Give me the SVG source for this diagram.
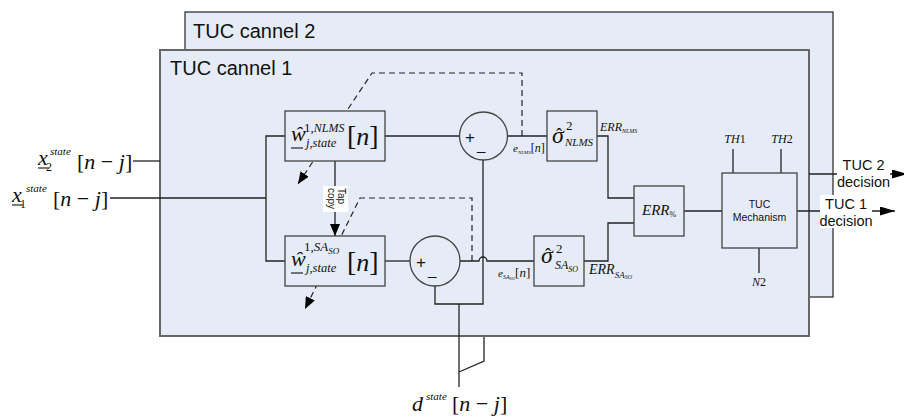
<svg xmlns="http://www.w3.org/2000/svg" width="904" height="417" viewBox="0 0 904 417">
<style>
.cv{fill:#e6ecf7;stroke:#333;stroke-width:1.3}
.cv1{fill:#e6ecf7;stroke:#666;stroke-width:2}
.blk{fill:#e6ecf7;stroke:#444;stroke-width:1.3}
.ln{fill:none;stroke:#222;stroke-width:1.3}
.dash{fill:none;stroke:#222;stroke-width:1.2;stroke-dasharray:6,4}
.m{font-family:"Liberation Serif","Times New Roman",serif;fill:#111}
.i{font-style:italic}
.s{font-family:"Liberation Sans",Arial,sans-serif;fill:#111}
.ul{stroke:#111;stroke-width:1.1}
.wb{fill:#fff}
</style>
<defs>
<marker id="ah" viewBox="0 0 12 10" refX="12" refY="5" markerWidth="12" markerHeight="10" orient="auto" markerUnits="userSpaceOnUse"><path d="M0,0 L12,5 L0,10 z" fill="#000"/></marker>
<marker id="ah2" viewBox="0 0 15 9" refX="15" refY="4.5" markerWidth="15" markerHeight="9" orient="auto" markerUnits="userSpaceOnUse"><path d="M0,0 L15,4.5 L0,9 z" fill="#000"/></marker>
</defs>

<g id="cannel2">
<rect class="cv" x="185" y="12" width="648" height="285"/>
<text class="s" x="193" y="37.5" font-size="20">TUC cannel 2</text>
</g>
<g id="cannel1">
<rect class="cv1" x="160" y="50" width="649" height="286"/>
<text class="s" x="170" y="75" font-size="20">TUC cannel 1</text>
</g>

<g id="connectors">
<path class="ln" d="M133,161 H160"/>
<path class="ln" d="M110,198 H266"/>
<path class="ln" d="M285,136 H266 V261 H285"/>
<path class="ln" d="M385,136 H459"/>
<path class="ln" d="M508,136 H547"/>
<path class="dash" d="M522,136 V73 H372 L298,184" marker-end="url(#ah)"/>
<path class="dash" d="M472,261 V198 H360 L305,309" marker-end="url(#ah)"/>
<path class="ln" d="M335,161 V236" marker-end="url(#ah)"/>
<path class="ln" d="M385,261 H410"/>
<path class="ln" d="M460,261 H479 A4,4 0 0 1 487,261 H534"/>
<path class="ln" d="M483,150 V304 H435 V280"/>
<path class="ln" d="M459,304 V387"/>
<path class="ln" d="M484,337 V361 L459,372"/>
<path class="ln" d="M597,136 H608 V198 H634"/>
<path class="ln" d="M584,261 H608 V223 H634"/>
<path class="ln" d="M684,211 H722"/>
<path class="ln" d="M733,149 V173"/>
<path class="ln" d="M781,149 V173"/>
<path class="ln" d="M759,248 V273"/>
<path class="ln" d="M797,211 H895" marker-end="url(#ah2)"/>
<path class="ln" d="M809,174 H907" marker-end="url(#ah2)"/>
</g>

<g id="input-x2">
<text class="m i" x="38" y="165" font-size="22">x</text>
<line class="ul" x1="38" y1="168" x2="49" y2="168"/>
<text class="m" x="46" y="171" font-size="12">2</text>
<text class="m i" x="50" y="155" font-size="11">state</text>
<text class="m" x="77" y="169" font-size="22">[<tspan class="i">n</tspan> − <tspan class="i">j</tspan>]</text>
</g>
<g id="input-x1">
<text class="m i" x="12" y="202" font-size="22">x</text>
<line class="ul" x1="12" y1="205" x2="23" y2="205"/>
<text class="m" x="20" y="208" font-size="12">1</text>
<text class="m i" x="26" y="192" font-size="11">state</text>
<text class="m" x="53" y="206" font-size="22">[<tspan class="i">n</tspan> − <tspan class="i">j</tspan>]</text>
</g>

<g id="nlms-filter">
<rect class="blk" x="285" y="111" width="100" height="50"/>
<text class="m i" x="291" y="141" font-size="22">ŵ</text>
<line class="ul" x1="291" y1="148" x2="303" y2="148"/>
<text class="m" x="304" y="132" font-size="13">1,<tspan class="i" font-size="12">NLMS</tspan></text>
<text class="m i" x="306" y="147" font-size="12.5">j,state</text>
<text class="m" x="347" y="145" font-size="28">[<tspan class="i" font-size="26">n</tspan>]</text>
</g>

<g id="saso-filter">
<rect class="blk" x="285" y="236" width="100" height="50"/>
<text class="m i" x="291" y="266" font-size="22">ŵ</text>
<line class="ul" x1="291" y1="273" x2="303" y2="273"/>
<text class="m" x="304" y="251" font-size="13">1,<tspan class="i">SA</tspan><tspan class="i" font-size="9" dy="3">SO</tspan></text>
<text class="m i" x="306" y="272" font-size="12.5">j,state</text>
<text class="m" x="347" y="271" font-size="28">[<tspan class="i" font-size="26">n</tspan>]</text>
</g>

<g id="tap-copy">
<rect class="wb" x="323" y="186" width="25" height="26"/>
<g transform="translate(335,199) rotate(90)">
<text class="s" x="-11" y="-3" font-size="10">Tap</text>
<text class="s" x="-11" y="7" font-size="10">copy</text>
</g>
</g>

<g id="sum-nlms">
<circle class="blk" cx="483.5" cy="136" r="24"/>
<text class="s" x="465" y="143" font-size="17">+</text>
<text class="s" x="477" y="150" font-size="15">_</text>
</g>

<g id="sum-saso">
<circle class="blk" cx="435" cy="261" r="25"/>
<text class="s" x="416" y="268" font-size="17">+</text>
<text class="s" x="428" y="275" font-size="15">_</text>
</g>

<g id="e-nlms-label">
<text class="m" x="513" y="152" font-size="11"><tspan class="i">e</tspan><tspan class="i" font-size="5" dy="2">NLMS</tspan><tspan font-size="12" dy="-2">[<tspan class="i">n</tspan>]</tspan></text>
</g>
<g id="e-saso-label">
<text class="m" x="498" y="277" font-size="11"><tspan class="i">e</tspan><tspan class="i" font-size="6" dy="2">SA</tspan><tspan class="i" font-size="4.5" dy="1">SO</tspan><tspan font-size="13" dy="-3">[<tspan class="i">n</tspan>]</tspan></text>
</g>

<g id="sigma-nlms">
<rect class="blk" x="547" y="111" width="50" height="50"/>
<text class="m i" x="552" y="143" font-size="24">σ</text>
<text class="m" x="556" y="141" font-size="18">ˆ</text>
<text class="m" x="566" y="130" font-size="13">2</text>
<text class="m i" x="565" y="146" font-size="11">NLMS</text>
</g>

<g id="sigma-saso">
<rect class="blk" x="534" y="236" width="50" height="50"/>
<text class="m i" x="541" y="263" font-size="24">σ</text>
<text class="m" x="545" y="261" font-size="18">ˆ</text>
<text class="m" x="556" y="253" font-size="13">2</text>
<text class="m i" x="555" y="269" font-size="12">SA<tspan font-size="8" dy="3">SO</tspan></text>
</g>

<g id="err-labels">
<text class="m i" x="600" y="131" font-size="12">ERR<tspan font-size="6" dy="2">NLMS</tspan></text>
<text class="m i" x="589" y="274" font-size="14">ERR<tspan font-size="9" dy="4">SA</tspan><tspan font-size="6" dy="1">SO</tspan></text>
</g>

<g id="err-percent">
<rect class="blk" x="634" y="186" width="50" height="50"/>
<text class="m i" x="642" y="215" font-size="15">ERR<tspan font-style="normal" font-size="8" dy="2">%</tspan></text>
</g>

<g id="tuc-mechanism">
<rect class="blk" x="722" y="173" width="75" height="75"/>
<text class="s" x="759.5" y="208" font-size="10.5" text-anchor="middle">TUC</text>
<text class="s" x="759.5" y="221" font-size="10.5" text-anchor="middle">Mechanism</text>
</g>

<g id="thresholds">
<text class="m" x="735" y="143" font-size="12" text-anchor="middle"><tspan class="i">TH</tspan>1</text>
<text class="m" x="782" y="143" font-size="12" text-anchor="middle"><tspan class="i">TH</tspan>2</text>
<text class="m" x="759" y="286" font-size="12" text-anchor="middle"><tspan class="i">N</tspan>2</text>
</g>

<g id="tuc2-decision">
<rect class="wb" x="837" y="157" width="53" height="32"/>
<text class="s" x="863.5" y="170" font-size="14.5" text-anchor="middle">TUC 2</text>
<text class="s" x="863.5" y="187" font-size="14.5" text-anchor="middle">decision</text>
</g>
<g id="tuc1-decision">
<rect class="wb" x="820" y="195" width="52" height="33"/>
<text class="s" x="846" y="209" font-size="14.5" text-anchor="middle">TUC 1</text>
<text class="s" x="846" y="226" font-size="14.5" text-anchor="middle">decision</text>
</g>

<g id="input-d">
<text class="m i" x="412" y="411" font-size="22">d</text>
<text class="m i" x="426" y="400" font-size="11">state</text>
<text class="m" x="452" y="411" font-size="22">[<tspan class="i">n</tspan> − <tspan class="i">j</tspan>]</text>
</g>
</svg>
